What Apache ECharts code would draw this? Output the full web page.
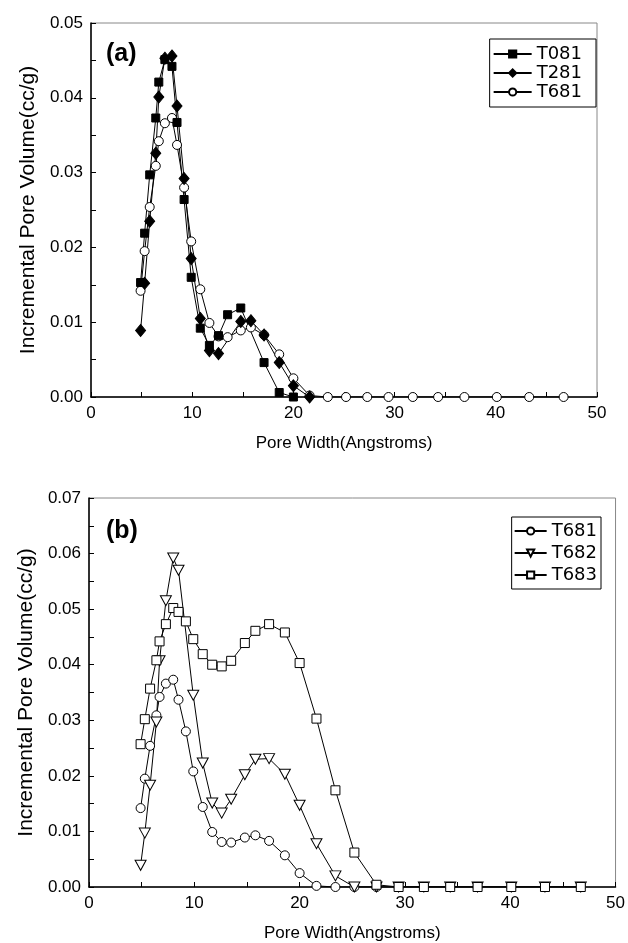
<!DOCTYPE html>
<html>
<head>
<meta charset="utf-8">
<script src="https://cdn.jsdelivr.net/npm/echarts@6/dist/echarts.min.js"></script>
<style>
    html, body { margin: 0; padding: 0; background: #fff; }
    #chart { width: 628px; height: 943px; }
</style>
</head>
<body>
<div id="chart"></div>
<script>
// pore widths (Angstroms)
var w081 = [4.9, 5.3, 5.8, 6.4, 6.7, 7.3, 8.0, 8.5, 9.2, 9.9, 10.8, 11.7, 12.6, 13.5, 14.8, 17.1, 18.6, 20.0];
var v081 = [0.0153, 0.0219, 0.0297, 0.0373, 0.0421, 0.0451, 0.0442, 0.0367, 0.0264, 0.0160, 0.0092, 0.0069, 0.0082, 0.0110, 0.0119, 0.0046, 0.0006, 0];

var w281 = [4.9, 5.3, 5.8, 6.4, 6.7, 7.3, 8.0, 8.5, 9.2, 9.9, 10.8, 11.7, 12.6, 14.8, 15.8, 17.1, 18.6, 20.0, 21.6];
var v281 = [0.0089, 0.0152, 0.0235, 0.0326, 0.0401, 0.0453, 0.0456, 0.0389, 0.0292, 0.0185, 0.0105, 0.0062, 0.0058, 0.0101, 0.0102, 0.0083, 0.0046, 0.0015, 0];

var w681 = [4.9, 5.3, 5.8, 6.4, 6.7, 7.3, 8.0, 8.5, 9.2, 9.9, 10.8, 11.7, 12.6, 13.5, 14.8, 15.8, 17.1, 18.6, 20.0, 21.6, 23.4, 25.2, 27.3, 29.4, 31.8, 34.3, 36.9, 40.1, 43.3, 46.7];
var v681 = [0.0142, 0.0195, 0.0254, 0.0309, 0.0342, 0.0366, 0.0373, 0.0337, 0.0280, 0.0208, 0.0144, 0.0099, 0.0081, 0.0080, 0.0089, 0.0093, 0.0083, 0.0057, 0.0025, 0.0002, 0, 0, 0, 0, 0, 0, 0, 0, 0, 0];

var w682 = [4.9, 5.3, 5.8, 6.4, 6.7, 7.3, 8.0, 8.5, 9.9, 10.8, 11.7, 12.6, 13.5, 14.8, 15.8, 17.1, 18.6, 20.0, 21.6, 23.4, 25.2, 27.3, 29.4, 31.8, 34.3, 36.9, 40.1, 43.3, 46.7];
var v682 = [0.0039, 0.0097, 0.0183, 0.0297, 0.0407, 0.0515, 0.0592, 0.0570, 0.0345, 0.0223, 0.0151, 0.0133, 0.0158, 0.0202, 0.0230, 0.0231, 0.0203, 0.0147, 0.0078, 0.0020, 0, 0, 0, 0, 0, 0, 0, 0, 0];

var w683 = [4.9, 5.3, 5.8, 6.4, 6.7, 7.3, 8.0, 8.5, 9.2, 9.9, 10.8, 11.7, 12.6, 13.5, 14.8, 15.8, 17.1, 18.6, 20.0, 21.6, 23.4, 25.2, 27.3, 29.4, 31.8, 34.3, 36.9, 40.1, 43.3, 46.7];
var v683 = [0.0257, 0.0302, 0.0357, 0.0408, 0.0442, 0.0473, 0.0502, 0.0495, 0.0478, 0.0446, 0.0419, 0.0400, 0.0397, 0.0407, 0.0439, 0.0461, 0.0473, 0.0458, 0.0403, 0.0303, 0.0174, 0.0062, 0.0004, 0, 0, 0, 0, 0, 0, 0];

var xTicks = [0, 10, 20, 30, 40, 50];
var yMaxTop = 0.05, yMaxBottom = 0.07;

var FONT = 'Liberation Sans';
var LEGEND_FONT = 'DejaVu Sans';

function pairs(xs, ys) {
    var out = [];
    for (var i = 0; i < xs.length; i++) {
        out.push([xs[i], ys[i]]);
    }
    return out;
}

function xAxisOpt(idx) {
    return {
        type: 'value',
        gridIndex: idx,
        min: xTicks[0],
        max: xTicks[xTicks.length - 1],
        interval: 10,
        name: 'Pore Width(Angstroms)',
        nameLocation: 'middle',
        nameGap: 38,
        nameTextStyle: { fontFamily: FONT, fontSize: 17, color: '#000' },
        axisLine: { show: true, onZero: false, lineStyle: { color: '#000', width: 1.5 } },
        axisTick: { inside: true, length: 5, lineStyle: { color: '#000' } },
        minorTick: { show: true, splitNumber: 2, length: 5, lineStyle: { color: '#000' } },
        axisLabel: { fontFamily: FONT, fontSize: 17, color: '#000', margin: 8 },
        splitLine: { show: false }
    };
}

function yAxisOpt(idx, max) {
    return {
        type: 'value',
        gridIndex: idx,
        min: 0,
        max: max,
        interval: 0.01,
        name: 'Incremental Pore Volume(cc/g)',
        nameLocation: 'middle',
        nameGap: 52,
        nameTextStyle: { fontFamily: FONT, fontSize: 21, color: '#000' },
        axisLine: { show: true, onZero: false, lineStyle: { color: '#000', width: 1.5 } },
        axisTick: { inside: true, length: 5, lineStyle: { color: '#000' } },
        minorTick: { show: true, splitNumber: 2, length: 5, lineStyle: { color: '#000' } },
        axisLabel: {
            fontFamily: FONT, fontSize: 17, color: '#000', margin: 8,
            formatter: function (v) { return v.toFixed(2); }
        },
        splitLine: { show: false }
    };
}

function lineSeries(name, idx, data, symbol, size, fill, rotate) {
    return {
        name: name,
        type: 'line',
        xAxisIndex: idx,
        yAxisIndex: idx,
        data: data,
        symbol: symbol,
        symbolSize: size,
        symbolRotate: rotate || 0,
        showAllSymbol: true,
        lineStyle: { color: '#000', width: 1 },
        itemStyle: { color: fill, borderColor: '#000', borderWidth: 1 },
        emphasis: { disabled: true },
        animation: false
    };
}

function legendOpt(names, right, top, lineW, gap, pad) {
    return {
        data: names,
        orient: 'vertical',
        right: right,
        top: top,
        itemWidth: lineW,
        itemHeight: 9,
        itemGap: gap,
        padding: pad,
        borderColor: '#000',
        borderWidth: 1,
        selectedMode: false,
        textStyle: { fontFamily: LEGEND_FONT, fontSize: 18, color: '#000' }
    };
}

var chart = echarts.init(document.getElementById('chart'), null, { renderer: 'canvas' });

var option = {
    backgroundColor: '#fff',
    animation: false,
    title: [{
        text: '(a)', left: 101, top: 37,
        textStyle: { fontFamily: FONT, fontSize: 25, fontWeight: 'bold', color: '#000' }
    }, {
        text: '(b)', left: 101, top: 514,
        textStyle: { fontFamily: FONT, fontSize: 25, fontWeight: 'bold', color: '#000' }
    }],
    grid: [
        { left: 91, top: 23, width: 506, height: 374, show: true, borderColor: '#888', borderWidth: 1 },
        { left: 89, top: 498, width: 528, height: 389, show: true, borderColor: '#888', borderWidth: 1 }
    ],
    legend: [
        legendOpt(['T081', 'T281', 'T681'], 32, 39, 38, 1, [6, 14, 6, 3]),
        legendOpt(['T681', 'T682', 'T683'], 27, 517, 32, 4, [5, 4, 5, 2])
    ],
    xAxis: [xAxisOpt(0), xAxisOpt(1)],
    yAxis: [yAxisOpt(0, yMaxTop), yAxisOpt(1, yMaxBottom)],
    series: [
        lineSeries('T681', 0, pairs(w681, v681), 'circle', 9, '#fff'),
        lineSeries('T281', 0, pairs(w281, v281), 'diamond', [10, 12], '#000'),
        lineSeries('T081', 0, pairs(w081, v081), 'rect', 8, '#000'),
        lineSeries('T681', 1, pairs(w681, v681), 'circle', 9, '#fff'),
        lineSeries('T682', 1, pairs(w682, v682), 'triangle', [11, 10], '#fff', 180),
        lineSeries('T683', 1, pairs(w683, v683), 'rect', 9, '#fff')
    ]
};
chart.setOption(option);
</script>
</body>
</html>
